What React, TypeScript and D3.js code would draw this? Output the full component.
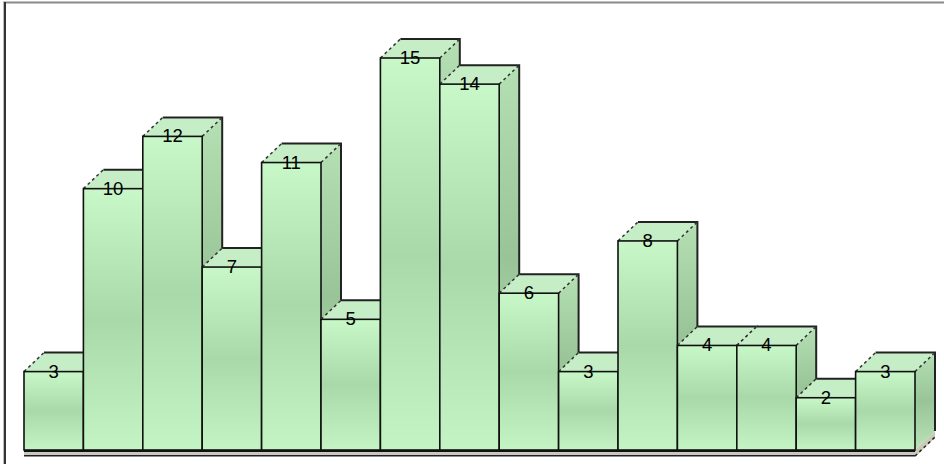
import React from "react";
import * as d3 from "d3";

const categories = ["1","2","3","4","5","6","7","8","9","10","11","12","13","14","15"];
const values = [3, 10, 12, 7, 11, 5, 15, 14, 6, 3, 8, 4, 4, 2, 3];

const W = 944, H = 464;
const DX = 20, DY = 19;

export default function App() {
  const x = d3.scaleBand<string>().domain(categories).range([24, 915]).padding(0);
  const y = d3.scaleLinear().domain([0, 15]).range([450, 58]);
  const bw = x.bandwidth();
  const yB = y(0);
  const xEnd = (x(categories[categories.length - 1]) as number) + bw;

  return (
    <svg width={W} height={H} style={{ position: "absolute", left: 0, top: 0, background: "#fff" }}
      fontFamily="'Liberation Sans', Arial, sans-serif">
      <defs>
        <linearGradient id="front" x1="0" y1="0" x2="0" y2="1">
          <stop offset="0" stopColor="#c8f8c8" />
          <stop offset="0.5" stopColor="#a9d9a9" />
          <stop offset="1" stopColor="#c4f4c4" />
        </linearGradient>
        <linearGradient id="side" x1="0" y1="0" x2="0" y2="1">
          <stop offset="0" stopColor="#b4e0b4" />
          <stop offset="0.5" stopColor="#98c498" />
          <stop offset="1" stopColor="#b8e4b8" />
        </linearGradient>
      </defs>
      {/* frame */}
      <line x1={3} y1={2.5} x2={W} y2={2.5} stroke="#8a8a8a" strokeWidth={2} />
      <line x1={5} y1={2} x2={5} y2={H} stroke="#333" strokeWidth={2} />
      <line x1={3.5} y1={2} x2={3.5} y2={H} stroke="#bbb" strokeWidth={1} />

      {/* floor */}
      <polygon points={`${xEnd},${yB} ${xEnd + DX},${yB - DY} ${xEnd + DX},${yB - DY + 7} ${xEnd},${yB + 7}`}
        fill="#c9c9b5" />
      <line x1={xEnd} y1={yB + 6} x2={xEnd + DX} y2={yB - DY + 6} stroke="#222" strokeWidth={1.5} strokeDasharray="3,3" />
      <rect x={24} y={yB - 1} width={xEnd - 24} height={3} fill="#111" />
      <rect x={24} y={yB + 2} width={xEnd - 24} height={3} fill="#c8c8c0" />
      <rect x={24} y={yB + 5} width={xEnd - 24} height={1.5} fill="#222" />

      {values.map((v, i) => {
        const x0 = x(categories[i]) as number;
        const x1 = x0 + bw;
        const yT = y(v);
        return (
          <g key={i}>
            <polygon points={`${x1},${yT} ${x1 + DX},${yT - DY} ${x1 + DX},${yB - DY} ${x1},${yB}`} fill="url(#side)" />
            <polygon points={`${x0},${yT} ${x0 + DX},${yT - DY} ${x1 + DX},${yT - DY} ${x1},${yT}`} fill="#c6eec6" />
            <path d={`M${x0 + DX},${yT - DY} H${x1 + DX} V${yB - DY}`} fill="none" stroke="#222" strokeWidth={2} />
            <line x1={x0} y1={yT} x2={x0 + DX} y2={yT - DY} stroke="#333" strokeWidth={1.5} strokeDasharray="3,3" />
            <line x1={x1} y1={yT} x2={x1 + DX} y2={yT - DY} stroke="#333" strokeWidth={1.5} strokeDasharray="3,3" />
            <rect x={x0} y={yT} width={bw} height={yB - yT} fill="url(#front)" stroke="#111" strokeWidth={1.6} />
            <text x={(x0 + x1) / 2} y={yT + 6} textAnchor="middle" fontSize={18.5} fill="#000">{v}</text>
          </g>
        );
      })}
    </svg>
  );
}
